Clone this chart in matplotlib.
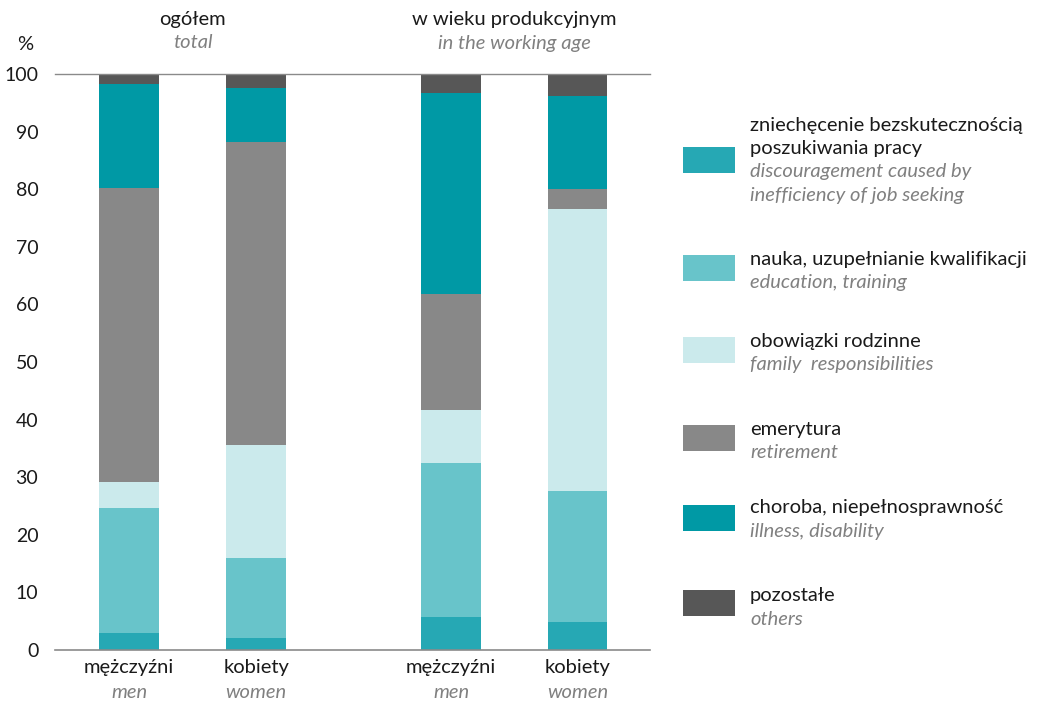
import matplotlib
matplotlib.use("Agg")
import matplotlib.pyplot as plt
from matplotlib.patches import Rectangle
import numpy as np

plt.rcParams['font.family'] = ['Lato', 'DejaVu Sans']

groups_pl = ["ogółem", "w wieku produkcyjnym"]
groups_en = ["total", "in the working age"]
cats_pl = ["mężczyźni", "kobiety", "mężczyźni", "kobiety"]
cats_en = ["men", "women", "men", "women"]

series_pl = ["zniechęcenie bezskutecznością\nposzukiwania pracy",
             "nauka, uzupełnianie kwalifikacji",
             "obowiązki rodzinne",
             "emerytura",
             "choroba, niepełnosprawność",
             "pozostałe"]
series_en = ["discouragement caused by\ninefficiency of job seeking",
             "education, training",
             "family  responsibilities",
             "retirement",
             "illness, disability",
             "others"]
colors = ["#26A8B4", "#68C4CA", "#CBEAEC", "#888888", "#0099A5", "#575757"]

discouragement = [2.9, 2.1, 5.7, 4.9]
education = [21.7, 13.9, 26.8, 22.7]
family = [4.6, 19.6, 9.2, 49.0]
retirement = [51.0, 52.6, 20.1, 3.4]
illness = [18.1, 9.4, 34.9, 16.2]
others = [1.7, 2.4, 3.3, 3.8]

values = [discouragement, education, family, retirement, illness, others]
yticks = [0, 10, 20, 30, 40, 50, 60, 70, 80, 90, 100]

FS = 14.5

fig = plt.figure(figsize=(10.38, 7.01), dpi=100)
ax = fig.add_axes([55/1038, 1-650/701, (650-55)/1038, (650-74)/701])

xpos = np.array([0, 1, 2.535, 3.53])
bottom = np.zeros(4)
for vals, c in zip(values, colors):
    ax.bar(xpos, vals, bottom=bottom, width=0.47, color=c, linewidth=0)
    bottom += np.array(vals)

ax.set_xlim(-0.583, 4.10)
ax.set_ylim(0, 100)
ax.set_yticks(yticks)
ax.set_yticklabels([str(t) for t in yticks], fontsize=14, color="#1a1a1a")
ax.tick_params(axis='y', length=0, pad=12)
ax.set_xticks([])
for s in ["top", "right", "left"]:
    ax.spines[s].set_visible(False)
ax.spines["bottom"].set_color("#8a8a8a")
ax.spines["bottom"].set_linewidth(1.2)
ax.axhline(100, color="#8a8a8a", linewidth=1.0, clip_on=False)

# x labels
for x, pl, en in zip(xpos, cats_pl, cats_en):
    xf = ax.transData.transform((x, 0))[0] / fig.bbox.width
    fig.text(xf, 1-668/701, pl, ha="center", va="center", fontsize=FS, color="#1a1a1a")
    fig.text(xf, 1-692/701, en, ha="center", va="center", fontsize=FS, color="#808080", style="italic")

# group headers
for (a, b), pl, en in zip([(0, 1), (2, 3)], groups_pl, groups_en):
    xc = (xpos[a] + xpos[b]) / 2
    xf = ax.transData.transform((xc, 0))[0] / fig.bbox.width
    fig.text(xf, 1-20/701, pl, ha="center", va="center", fontsize=FS, color="#1a1a1a")
    fig.text(xf, 1-43/701, en, ha="center", va="center", fontsize=FS, color="#808080", style="italic")

fig.text(25/1038, 1-45/701, "%", ha="center", va="center", fontsize=FS, color="#1a1a1a")

# legend
patch_y = [160, 268, 350, 438, 518, 603]
text_top = [125, 259, 341, 429, 508, 596]
line_h = 23.5
for py, ty, pl, en, c in zip(patch_y, text_top, series_pl, series_en, colors):
    fig.patches.append(Rectangle((683/1038, 1-(py+13)/701), 52/1038, 26/701,
                                 transform=fig.transFigure, color=c, linewidth=0))
    pl_lines = pl.split("\n")
    en_lines = en.split("\n")
    y = ty
    for ln in pl_lines:
        fig.text(750/1038, 1-y/701, ln, ha="left", va="center", fontsize=FS, color="#1a1a1a")
        y += line_h
    for ln in en_lines:
        fig.text(750/1038, 1-y/701, ln, ha="left", va="center", fontsize=FS, color="#808080", style="italic")
        y += line_h

fig.savefig("out.png", dpi=100)
